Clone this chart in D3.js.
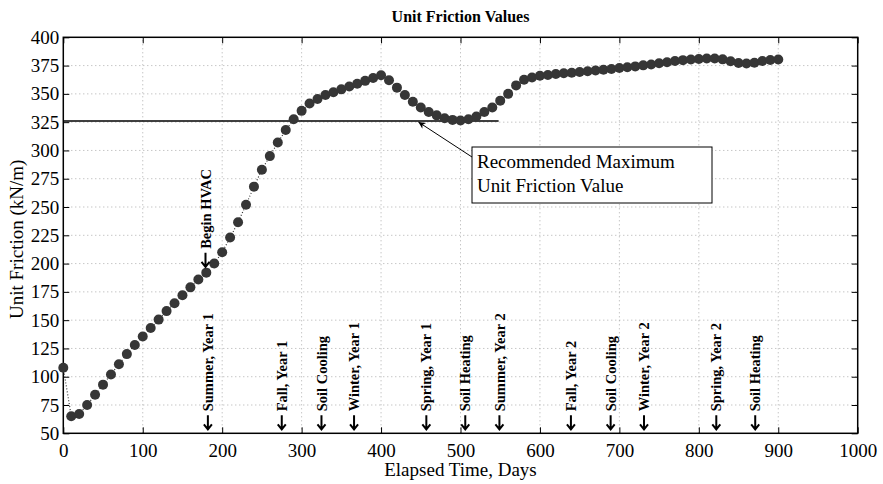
<!DOCTYPE html>
<html>
<head>
<meta charset="utf-8">
<script src="https://cdn.jsdelivr.net/npm/d3@7"></script>
<style>
  body { margin: 0; background: #fff; }
  text { font-family: "Liberation Serif", "Times New Roman", serif; }
</style>
</head>
<body>
<div id="chart"></div>
<script>
// Unit friction readings, roughly every 10 days
const days = [0, 10, 20, 30, 40, 50, 60, 70, 80, 90, 100, 110, 120, 130, 140, 150, 160, 170, 180, 190,
  200, 210, 220, 230, 240, 250, 260, 270, 280, 290, 300, 310, 320, 330, 340, 350, 360, 370, 380, 390,
  400, 410, 420, 430, 440, 450, 460, 470, 480, 490, 500, 510, 520, 530, 540, 550, 560, 570, 580, 590,
  600, 610, 620, 630, 640, 650, 660, 670, 680, 690, 700, 710, 720, 730, 740, 750, 760, 770, 780, 790,
  800, 810, 820, 830, 840, 850, 860, 870, 880, 890, 900];
const friction = [108, 65, 67, 75, 84, 93, 102, 111, 120, 128, 135.5, 143, 150.5, 158, 165, 172, 179, 186, 192, 200,
  210, 223, 236.5, 252, 268, 283, 295, 307, 318, 327.5, 335, 341.5, 345.5, 349, 351.5, 354, 356.5, 359, 361.5, 364,
  366.5, 362, 355.5, 349, 343, 338, 334, 331, 328.5, 327, 326.5, 327.5, 330, 334, 338, 344, 350, 357.5, 362.5, 364.5,
  366, 366.7, 367.5, 368.2, 368.7, 369.3, 370, 370.7, 371.3, 372, 372.8, 373.5, 374.3, 375.2, 376, 377, 378, 379, 379.8, 380.3,
  380.8, 381.2, 381.3, 380.5, 378.8, 377.3, 376.8, 377.5, 379, 380, 380.3];

const xTicks = [0, 100, 200, 300, 400, 500, 600, 700, 800, 900, 1000];
const yTicks = [50, 75, 100, 125, 150, 175, 200, 225, 250, 275, 300, 325, 350, 375, 400];

// event markers along the bottom
const eventDays = [182, 275, 325, 366, 457, 506, 549, 639, 689, 731, 822, 871];
const eventLabels = ["Summer, Year 1", "Fall, Year 1", "Soil Cooling", "Winter, Year 1", "Spring, Year 1",
  "Soil Heating", "Summer, Year 2", "Fall, Year 2", "Soil Cooling", "Winter, Year 2", "Spring, Year 2", "Soil Heating"];

const hvacDay = 179;
const hvacValue = 198;
const maxFriction = 326;
const maxLineEnd = 548;

const width = 883;
const height = 484;
const margin = { top: 37.3, right: 25.3, bottom: 50.7, left: 63.3 };

const svg = d3.select("#chart")
  .append("svg")
  .attr("width", width)
  .attr("height", height);

const x = d3.scaleLinear().domain([0, 1000]).range([margin.left, width - margin.right]);
const y = d3.scaleLinear().domain([50, 400]).range([height - margin.bottom, margin.top]);

// grid lines
const grid = svg.append("g");
grid.selectAll(".vgrid")
  .data(xTicks.slice(1, -1))
  .enter()
  .append("line")
  .attr("x1", d => x(d)).attr("x2", d => x(d))
  .attr("y1", y(50)).attr("y2", y(400))
  .attr("stroke", "#999")
  .attr("stroke-width", 0.8)
  .attr("stroke-dasharray", "1,3");
grid.selectAll(".hgrid")
  .data(yTicks.slice(1, -1))
  .enter()
  .append("line")
  .attr("x1", x(0)).attr("x2", x(1000))
  .attr("y1", d => y(d)).attr("y2", d => y(d))
  .attr("stroke", "#999")
  .attr("stroke-width", 0.8)
  .attr("stroke-dasharray", "1,3");

// axes, ticks pointing inward
const tickLen = 6;
svg.append("g")
  .attr("transform", `translate(0,${y(50)})`)
  .call(d3.axisBottom(x).tickValues(xTicks).tickFormat(d3.format("d")).tickSizeInner(-tickLen).tickSizeOuter(0).tickPadding(10))
  .call(g => g.select(".domain").remove())
  .call(g => g.selectAll("text").style("font-size", "19px").attr("fill", "#000"));
svg.append("g")
  .attr("transform", `translate(0,${y(400)})`)
  .call(d3.axisTop(x).tickValues(xTicks).tickSizeInner(-tickLen).tickSizeOuter(0).tickFormat(""))
  .call(g => g.select(".domain").remove());
svg.append("g")
  .attr("transform", `translate(${x(0)},0)`)
  .call(d3.axisLeft(y).tickValues(yTicks).tickSizeInner(-tickLen).tickSizeOuter(0).tickPadding(4))
  .call(g => g.select(".domain").remove())
  .call(g => g.selectAll("text").style("font-size", "19px").attr("fill", "#000"));
svg.append("g")
  .attr("transform", `translate(${x(1000)},0)`)
  .call(d3.axisRight(y).tickValues(yTicks).tickSizeInner(-tickLen).tickSizeOuter(0).tickFormat(""))
  .call(g => g.select(".domain").remove());

svg.append("rect")
  .attr("x", x(0))
  .attr("y", y(400))
  .attr("width", x(1000) - x(0))
  .attr("height", y(50) - y(400))
  .attr("fill", "none")
  .attr("stroke", "#000")
  .attr("stroke-width", 1.5);

// recommended maximum line
svg.append("line")
  .attr("x1", x(0)).attr("x2", x(maxLineEnd))
  .attr("y1", y(maxFriction)).attr("y2", y(maxFriction))
  .attr("stroke", "#000")
  .attr("stroke-width", 1.5);

// data: dotted line plus markers
const points = days.map((d, i) => ({ d: d, v: friction[i] }));
svg.append("path")
  .datum(points)
  .attr("fill", "none")
  .attr("stroke", "#333")
  .attr("stroke-width", 1.2)
  .attr("stroke-dasharray", "1,2")
  .attr("d", d3.line().x(p => x(p.d)).y(p => y(p.v)));
svg.selectAll(".pt")
  .data(points)
  .enter()
  .append("circle")
  .attr("cx", p => x(p.d))
  .attr("cy", p => y(p.v))
  .attr("r", 5)
  .attr("fill", "#363636");

// small down arrow drawn under a rotated label
function downArrow(cx, tipY) {
  svg.append("path")
    .attr("d", `M${cx},${tipY - 14} L${cx},${tipY} M${cx - 4},${tipY - 5} L${cx},${tipY} L${cx + 4},${tipY - 5}`)
    .attr("fill", "none")
    .attr("stroke", "#000")
    .attr("stroke-width", 2);
}

// event labels (rotated, arrow pointing down)
eventDays.forEach((d, i) => {
  downArrow(x(d), y(50) - 4);
  svg.append("text")
    .attr("transform", `translate(${x(d)},${y(50) - 22}) rotate(-90)`)
    .attr("dy", "0.35em")
    .attr("text-anchor", "start")
    .style("font-size", "14.5px")
    .style("font-weight", "bold")
    .text(eventLabels[i]);
});

downArrow(x(hvacDay), y(hvacValue) + 1);
svg.append("text")
  .attr("transform", `translate(${x(hvacDay)},${y(hvacValue) - 17}) rotate(-90)`)
  .attr("dy", "0.35em")
  .attr("text-anchor", "start")
  .style("font-size", "14.5px")
  .style("font-weight", "bold")
  .text("Begin HVAC");

// annotation box + arrow
const boxX = 472, boxY = 147, boxW = 240, boxH = 56;
svg.append("defs")
  .append("marker")
  .attr("id", "arrowhead")
  .attr("viewBox", "0 0 10 10")
  .attr("refX", 10).attr("refY", 5)
  .attr("markerWidth", 9).attr("markerHeight", 7)
  .attr("orient", "auto")
  .append("path")
  .attr("d", "M0,0 L10,5 L0,10 L3,5 Z")
  .attr("fill", "#000");
svg.append("line")
  .attr("x1", boxX).attr("y1", boxY + 10)
  .attr("x2", x(447)).attr("y2", y(maxFriction) + 1)
  .attr("stroke", "#000")
  .attr("stroke-width", 1)
  .attr("marker-end", "url(#arrowhead)");
svg.append("rect")
  .attr("x", boxX).attr("y", boxY)
  .attr("width", boxW).attr("height", boxH)
  .attr("fill", "#fff")
  .attr("stroke", "#000")
  .attr("stroke-width", 1);
svg.append("text")
  .attr("x", boxX + 5).attr("y", boxY + 21)
  .style("font-size", "19px")
  .text("Recommended Maximum");
svg.append("text")
  .attr("x", boxX + 5).attr("y", boxY + 45)
  .style("font-size", "19px")
  .text("Unit Friction Value");

// titles
svg.append("text")
  .attr("x", (x(0) + x(1000)) / 2)
  .attr("y", 22)
  .attr("text-anchor", "middle")
  .style("font-size", "16px")
  .style("font-weight", "bold")
  .text("Unit Friction Values");
svg.append("text")
  .attr("x", (x(0) + x(1000)) / 2)
  .attr("y", 476)
  .attr("text-anchor", "middle")
  .style("font-size", "19px")
  .text("Elapsed Time, Days");
svg.append("text")
  .attr("transform", `translate(23,${(y(50) + y(400)) / 2 + 4}) rotate(-90)`)
  .attr("text-anchor", "middle")
  .style("font-size", "19px")
  .text("Unit Friction (kN/m)");
</script>
</body>
</html>
